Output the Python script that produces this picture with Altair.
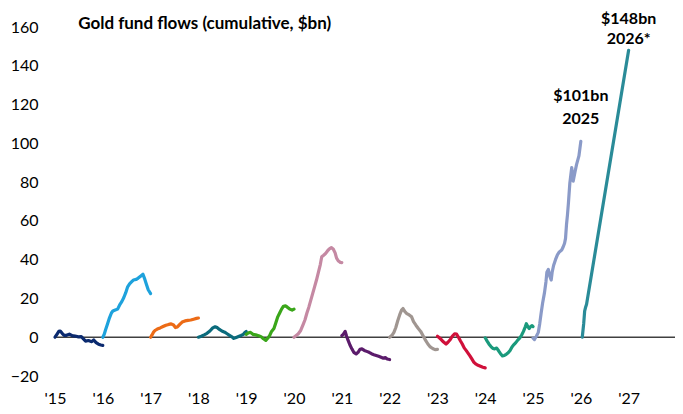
import altair as alt
import pandas as pd

# ---------------- data ----------------
YEARS = list(range(2015, 2028))
Y_TICKS = [-20, 0, 20, 40, 60, 80, 100, 120, 140, 160]

# (fraction of year, cumulative flow $bn)
S2015 = [(0, 0), (0.04, 1.5), (0.08, 3.0), (0.11, 3.2), (0.15, 2.0), (0.19, 1.0), (0.24, 1.0),
         (0.30, 1.6), (0.36, 0.8), (0.42, 0.6), (0.49, 0.2), (0.55, 0.3), (0.60, -1.0), (0.64, -2.0),
         (0.70, -1.7), (0.77, -2.3), (0.81, -1.4), (0.86, -2.8), (0.91, -3.6), (0.96, -4.0), (1.0, -4.2)]
S2016 = [(0, 0), (0.03, 1.5), (0.06, 4), (0.10, 7), (0.14, 10), (0.18, 12.5), (0.21, 13.5), (0.26, 14),
         (0.31, 14.5), (0.36, 17), (0.40, 18.5), (0.44, 20.5), (0.48, 23), (0.52, 26), (0.56, 27.5),
         (0.60, 28.5), (0.64, 29.5), (0.70, 29.8), (0.74, 30.5), (0.79, 31.5), (0.84, 32.5), (0.87, 30.5),
         (0.91, 27.5), (0.95, 24.5), (1.0, 22.5)]
S2017 = [(0, 0), (0.03, 1.2), (0.06, 2.6), (0.10, 3.6), (0.14, 4.2), (0.20, 4.8), (0.26, 5.5), (0.32, 6.2),
         (0.38, 6.6), (0.43, 6.9), (0.48, 6.3), (0.52, 5.0), (0.56, 5.3), (0.61, 6.6), (0.66, 7.8),
         (0.72, 8.4), (0.78, 8.7), (0.84, 8.9), (0.90, 9.3), (0.96, 9.7), (1.0, 9.9)]
S2018 = [(0, 0), (0.06, 0.5), (0.12, 1.2), (0.18, 2.0), (0.24, 3.2), (0.30, 4.8), (0.35, 5.4), (0.39, 5.0),
         (0.44, 4.0), (0.49, 3.2), (0.55, 2.6), (0.60, 1.8), (0.65, 1.0), (0.70, 0.2), (0.74, -0.6),
         (0.79, -0.1), (0.84, 0.4), (0.89, 0.9), (0.94, 1.5), (0.98, 2.6), (1.0, 3.0)]
S2019 = [(0, 1.5), (0.05, 2.3), (0.09, 2.5), (0.14, 1.5), (0.20, 1.2), (0.26, 0.8), (0.31, 0.3),
         (0.36, -0.8), (0.41, -1.6), (0.45, -0.5), (0.49, 0.8), (0.53, 3.0), (0.58, 4.5), (0.62, 7.5),
         (0.66, 10.5), (0.70, 12.5), (0.74, 14.5), (0.78, 16.0), (0.82, 16.2), (0.86, 15.5), (0.91, 14.5),
         (0.96, 14.0), (1.0, 14.5)]
S2020 = [(0, 0), (0.04, 0.8), (0.09, 1.8), (0.14, 3.5), (0.19, 6.5), (0.23, 9), (0.27, 12.5), (0.31, 15.5),
         (0.35, 19), (0.39, 22.5), (0.43, 26), (0.47, 29.5), (0.51, 33.5), (0.55, 37.5), (0.58, 41.5),
         (0.62, 42.3), (0.66, 43.2), (0.70, 44.5), (0.74, 45.6), (0.78, 46.2), (0.82, 45.5), (0.86, 43.5),
         (0.89, 40.8), (0.93, 39.3), (0.97, 38.6), (1.0, 38.5)]
S2021 = [(0, 0.8), (0.03, 1.5), (0.07, 3.0), (0.10, 0.5), (0.13, -1.5), (0.17, -4.0), (0.21, -6.0),
         (0.25, -7.8), (0.30, -8.6), (0.34, -7.8), (0.38, -6.2), (0.42, -6.0), (0.47, -6.8), (0.52, -7.3),
         (0.57, -7.8), (0.62, -8.5), (0.67, -9.0), (0.72, -9.4), (0.77, -9.8), (0.82, -10.3), (0.87, -10.8),
         (0.91, -10.5), (0.95, -11.2), (1.0, -11.5)]
S2022 = [(0, 0), (0.05, 1.0), (0.09, 2.5), (0.13, 5.0), (0.17, 8.5), (0.21, 11.5), (0.25, 14.0),
         (0.28, 14.8), (0.32, 13.2), (0.36, 12.2), (0.41, 11.5), (0.46, 10.5), (0.50, 8.0), (0.55, 6.2),
         (0.60, 4.5), (0.65, 3.0), (0.70, 0.8), (0.75, -1.5), (0.80, -3.5), (0.85, -5.0), (0.90, -5.8),
         (0.95, -6.4), (1.0, -6.3)]
S2023 = [(0, 0.5), (0.04, -0.3), (0.08, -1.2), (0.13, -2.5), (0.18, -3.5), (0.22, -2.6), (0.27, -1.2),
         (0.31, 0.5), (0.36, 1.8), (0.40, 1.6), (0.44, 0.0), (0.48, -1.8), (0.52, -3.5), (0.56, -5.5),
         (0.60, -6.8), (0.64, -8.2), (0.68, -9.6), (0.72, -11.2), (0.76, -12.8), (0.80, -13.8),
         (0.85, -14.5), (0.90, -15.0), (0.95, -15.5), (1.0, -15.8)]
S2024 = [(0, -0.3), (0.04, -2.0), (0.08, -3.6), (0.12, -4.8), (0.16, -5.8), (0.20, -6.0), (0.24, -5.6),
         (0.28, -7.0), (0.32, -8.5), (0.36, -9.6), (0.40, -9.4), (0.44, -8.8), (0.48, -8.0), (0.52, -6.8),
         (0.56, -5.0), (0.60, -3.8), (0.64, -2.8), (0.68, -1.5), (0.72, -0.5), (0.76, 1.0), (0.80, 3.0),
         (0.84, 5.5), (0.86, 7.0), (0.89, 5.5), (0.92, 4.5), (0.95, 5.5), (0.98, 6.0), (1.0, 5.5)]
S2025 = [(0, -0.5), (0.03, -1.2), (0.07, 0.5), (0.11, 2.5), (0.14, 7), (0.17, 12.5), (0.20, 17.5),
         (0.24, 23), (0.27, 28.5), (0.29, 33.5), (0.32, 35), (0.35, 31.5), (0.38, 29.5), (0.40, 33.5),
         (0.43, 37), (0.47, 40), (0.51, 42.5), (0.55, 44), (0.60, 45), (0.63, 46.5), (0.66, 48.5),
         (0.68, 51), (0.70, 58), (0.72, 63), (0.74, 69), (0.77, 79.5), (0.81, 87.5), (0.84, 80.5),
         (0.88, 85.5), (0.91, 89), (0.96, 93.5), (1.0, 101)]
S2026 = [(0.03, 0), (0.06, 7), (0.08, 13.5), (0.10, 15.5), (0.12, 17), (1.0, 148)]

SERIES = {2015: S2015, 2016: S2016, 2017: S2017, 2018: S2018, 2019: S2019, 2020: S2020,
          2021: S2021, 2022: S2022, 2023: S2023, 2024: S2024, 2025: S2025, 2026: S2026}
COLORS = ["#0b2a6f", "#1ea2dc", "#ec6b16", "#0b6b7c", "#3aa61a", "#c589a3",
          "#5b1b6b", "#a09691", "#d0103a", "#1a9a7c", "#8a9ac8", "#2a8b98"]

LABELS = ["$101bn", "2025", "$148bn", "2026*"]
LABEL_X = [2026.0, 2026.0, 2027.0, 2027.0]
LABEL_Y = [124.3, 112.8, 164.0, 153.6]

# ---------------- build tables ----------------
rows = []
for yr, pts in SERIES.items():
    for t, v in pts:
        rows.append({"series": str(yr), "x": yr + t, "v": v})
df = pd.DataFrame(rows)
ann = pd.DataFrame({"x": LABEL_X, "v": LABEL_Y, "text": LABELS})
zero_df = pd.DataFrame({"v": [0]})

FONT = "Lato"
x_scale = alt.Scale(domain=[2015, 2027.97], nice=False, zero=False)
y_scale = alt.Scale(domain=[-20, 160], nice=False, zero=False)

X_AXIS = alt.Axis(values=YEARS, format="d", labelExpr="\"'\" + slice(datum.label, 2)",
                  title=None, grid=False, domain=False, ticks=False, tickSize=0,
                  labelPadding=14, labelFontSize=16, labelFont=FONT, labelColor="#000",
                  labelFlush=False, labelOverlap=False)
Y_AXIS = alt.Axis(values=Y_TICKS, title=None, grid=False, domain=False, ticks=False, tickSize=0,
                  labelPadding=17, labelFontSize=16, labelFont=FONT, labelColor="#000",
                  labelOverlap=False, labelFlush=False)

zero = alt.Chart(zero_df).mark_rule(color="#404040", strokeWidth=1.5).encode(
    y=alt.Y("v:Q", scale=y_scale, axis=Y_AXIS)
)

lines = alt.Chart(df).mark_line(strokeWidth=3.2, strokeJoin="round", strokeCap="round").encode(
    x=alt.X("x:Q", scale=x_scale, axis=X_AXIS),
    y=alt.Y("v:Q", scale=y_scale, axis=Y_AXIS),
    color=alt.Color("series:N", scale=alt.Scale(domain=[str(k) for k in SERIES], range=COLORS), legend=None),
)

texts = alt.Chart(ann).mark_text(font=FONT, fontWeight="bold", fontSize=16, color="#000",
                                 align="center", baseline="middle").encode(
    x=alt.X("x:Q", scale=x_scale, axis=X_AXIS),
    y=alt.Y("v:Q", scale=y_scale, axis=Y_AXIS),
    text="text:N",
)

chart = alt.layer(zero, lines, texts).properties(
    width=620,
    height=349,
    padding={"left": 47, "top": 19, "right": 0, "bottom": 30},
    autosize=alt.AutoSizeParams(type="none"),
    title=alt.TitleParams("Gold fund flows (cumulative, $bn)", anchor="start", dx=68, dy=24, offset=2,
                          font=FONT, fontSize=17, fontWeight="bold", color="#000"),
).configure_view(stroke=None)

chart.save("out.html", embed_options={"renderer": "svg", "actions": False})
